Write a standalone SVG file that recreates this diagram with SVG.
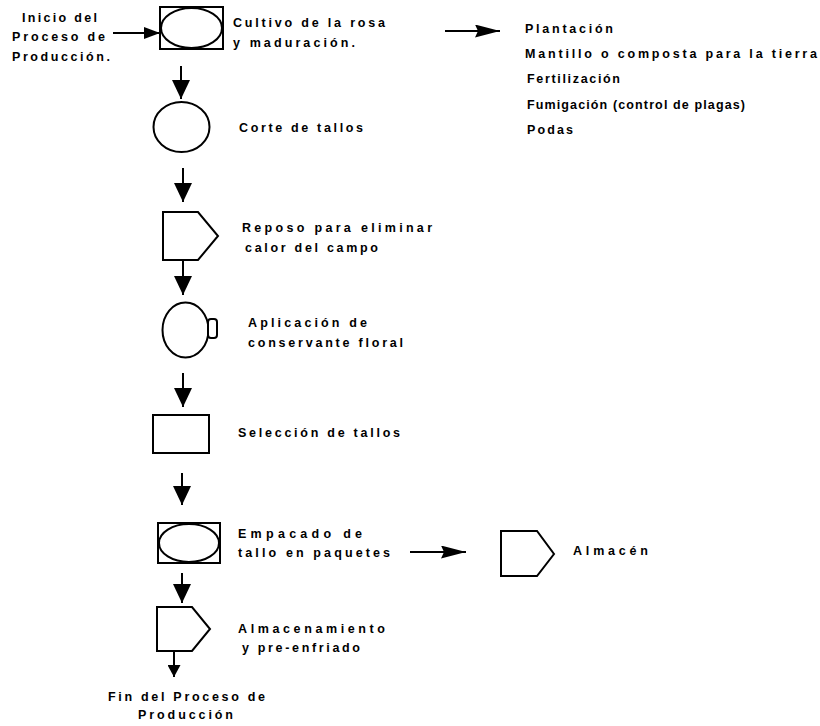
<svg xmlns="http://www.w3.org/2000/svg" width="820" height="726" viewBox="0 0 820 726">
<defs>
<style>
.s{fill:#fff;stroke:#000;stroke-width:2}
.c{fill:none;stroke:#000;stroke-width:2}
text{font-family:"Liberation Sans",Arial,sans-serif;font-size:12.5px;font-weight:bold;fill:#000}
</style>
<marker id="big" viewBox="0 0 19 18" markerWidth="19" markerHeight="18" refX="19" refY="9" orient="auto" markerUnits="userSpaceOnUse"><path d="M0,0 L19,9 L0,18 z" fill="#000"/></marker>
<marker id="small" viewBox="0 0 12 13" markerWidth="12" markerHeight="13" refX="12" refY="6.5" orient="auto" markerUnits="userSpaceOnUse"><path d="M0,0 L12,6.5 L0,13 z" fill="#000"/></marker>
<marker id="hz" viewBox="0 0 25 13" markerWidth="25" markerHeight="13" refX="25" refY="6.5" orient="auto" markerUnits="userSpaceOnUse"><path d="M0,0 L25,6.5 L0,13 L3,6.5 z" fill="#000"/></marker>
<marker id="hs" viewBox="0 0 16 12" markerWidth="16" markerHeight="12" refX="16" refY="6" orient="auto" markerUnits="userSpaceOnUse"><path d="M0,0 L16,6 L0,12 z" fill="#000"/></marker>
</defs>

<g id="inicio">
<text x="22" y="22" textLength="75" lengthAdjust="spacing">Inicio del</text>
<text x="12" y="41" textLength="93" lengthAdjust="spacing">Proceso de</text>
<text x="12" y="61" textLength="98" lengthAdjust="spacing">Producción.</text>
</g>

<g id="cultivo">
<rect class="s" x="160" y="7" width="63" height="42"/>
<ellipse class="s" cx="191.5" cy="28" rx="30.5" ry="20"/>
<text x="233" y="27" textLength="152" lengthAdjust="spacing">Cultivo de la rosa</text>
<text x="233" y="47" textLength="122" lengthAdjust="spacing">y maduración.</text>
</g>

<g id="actividades">
<text x="525" y="33" textLength="88" lengthAdjust="spacing">Plantación</text>
<text x="525" y="58" textLength="292" lengthAdjust="spacing">Mantillo o composta para la tierra</text>
<text x="527" y="83" textLength="93" lengthAdjust="spacing">Fertilización</text>
<text x="527" y="109" textLength="218" lengthAdjust="spacing">Fumigación (control de plagas)</text>
<text x="527" y="134" textLength="46" lengthAdjust="spacing">Podas</text>
</g>

<g id="corte">
<ellipse class="s" cx="181.5" cy="127" rx="28" ry="25"/>
<text x="239" y="132" textLength="124" lengthAdjust="spacing">Corte de tallos</text>
</g>

<g id="reposo">
<polygon class="s" points="163,212 198,212 218,236 198,260 163,260"/>
<text x="242" y="232" textLength="190" lengthAdjust="spacing">Reposo para eliminar</text>
<text x="245" y="252" textLength="133" lengthAdjust="spacing">calor del campo</text>
</g>

<g id="aplicacion">
<ellipse class="s" cx="185.5" cy="330" rx="23" ry="27.5"/>
<rect class="s" x="208" y="319" width="9" height="19" rx="3"/>
<text x="248" y="327" textLength="119" lengthAdjust="spacing">Aplicación de</text>
<text x="248" y="347" textLength="155" lengthAdjust="spacing">conservante floral</text>
</g>

<g id="seleccion">
<rect class="s" x="153" y="415" width="56" height="38"/>
<text x="238" y="437" textLength="162" lengthAdjust="spacing">Selección de tallos</text>
</g>

<g id="empacado">
<rect class="s" x="158" y="523" width="62" height="40"/>
<ellipse class="s" cx="189" cy="543" rx="30" ry="19"/>
<text x="238" y="538" textLength="124" lengthAdjust="spacing">Empacado de</text>
<text x="238" y="557" textLength="152" lengthAdjust="spacing">tallo en paquetes</text>
</g>

<g id="almacen">
<polygon class="s" points="501,531 537,531 554,554 537,576 501,576"/>
<text x="573" y="555" textLength="75" lengthAdjust="spacing">Almacén</text>
</g>

<g id="almacenamiento">
<polygon class="s" points="157,607 192,607 210,629 192,651 157,651"/>
<text x="238" y="633" textLength="147" lengthAdjust="spacing">Almacenamiento</text>
<text x="242" y="652" textLength="118" lengthAdjust="spacing">y pre-enfriado</text>
</g>

<g id="fin">
<text x="108" y="701" textLength="157" lengthAdjust="spacing">Fin del Proceso de</text>
<text x="138" y="719" textLength="95" lengthAdjust="spacing">Producción</text>
</g>

<g id="connectors">
<line class="c" x1="113" y1="33" x2="160" y2="33" marker-end="url(#hs)"/>
<line class="c" x1="445" y1="31" x2="500" y2="31" marker-end="url(#hz)"/>
<line class="c" x1="181" y1="66" x2="181" y2="99" marker-end="url(#big)"/>
<line class="c" x1="183" y1="168" x2="183" y2="202" marker-end="url(#big)"/>
<line class="c" x1="183" y1="260" x2="183" y2="295" marker-end="url(#big)"/>
<line class="c" x1="183" y1="373" x2="183" y2="407" marker-end="url(#big)"/>
<line class="c" x1="182" y1="473" x2="182" y2="505" marker-end="url(#big)"/>
<line class="c" x1="410" y1="552" x2="466" y2="552" marker-end="url(#hz)"/>
<line class="c" x1="182" y1="573" x2="182" y2="603" marker-end="url(#big)"/>
<line class="c" x1="174" y1="651" x2="174" y2="677" marker-end="url(#small)"/>
</g>
</svg>
